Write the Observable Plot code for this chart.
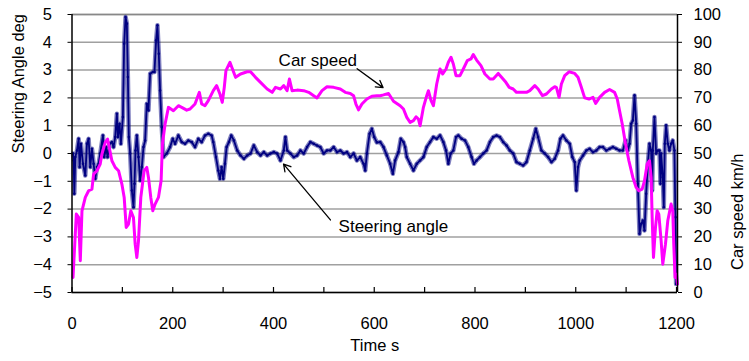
<!DOCTYPE html>
<html>
<head>
<meta charset="utf-8">
<script src="https://cdn.jsdelivr.net/npm/d3@7"></script>
<script src="https://cdn.jsdelivr.net/npm/@observablehq/plot@0.6"></script>
<style>
  html, body { margin: 0; padding: 0; background: #fff; }
  #chart { width: 749px; height: 361px; }
</style>
</head>
<body>
<div id="chart"></div>
<script>
// ---- Data ----
const speedTime = [2,8.6,13.2,16.5,19.8,26.4,33,39.6,42.9,49.5,56,59.4,66,70.6,79.2,85.8,92.4,99,103.6,107.6,112.2,116.8,122,125.4,128.7,132,136.6,143.2,148.5,151.8,156.4,160.4,165,171.6,176.9,179.5,184.8,191.4,201.3,211.2,217.8,227.7,234.3,244.2,252.8,257.4,264,270.6,280.5,287.1,293.7,298.3,302.3,305.6,313.5,324.7,334.6,347.8,354.4,364.3,374.2,387.4,397.3,403.9,413.8,420.4,427,431.6,436.9,446.8,460,469.9,479.8,486.4,496.3,506.2,519.4,532.6,542.5,552.4,559,563.6,568.9,575.5,585.4,595.3,605.2,611.8,618.4,628.3,638.2,651.4,658,664.6,671.2,677.8,683,687.7,691,697.6,704.2,707.5,712.8,717.4,724,730.6,735.9,742.5,747.1,752.4,757,762.3,770.2,776.8,784.7,792,796.6,803.2,811.8,819.7,829.6,836.2,846.1,852.7,861.3,867.9,875.8,882.4,895.6,902.2,908.8,918.7,925.3,933.9,941.8,951.7,958.3,961.6,966.9,971.5,978.1,986.7,997.9,1004.5,1011.1,1017.7,1026.3,1034.2,1039.5,1047.4,1057.3,1067.2,1077.1,1082.4,1087,1092.3,1098.9,1105.5,1113.4,1120,1125.3,1131.9,1136.5,1141.8,1146.4,1149.7,1151.7,1154.3,1158.3,1161.6,1164.9,1169.5,1172.8,1178.1,1182.7,1189.3,1192.6,1194.6,1197.2,1200,1202];
const speedKmh = [5.4,28.2,27,11.4,29.4,34.2,36.6,37.2,42.6,43.8,46.2,49.8,54,55.2,47.4,45,43.8,39,34.2,23.4,24.6,29.4,27,17.4,12.6,18.6,34.2,43.8,45,41.4,34.2,29.4,31.8,34.2,40.2,53.4,60.6,66.6,65.4,67.2,66.6,65.6,66,67.8,72,67.8,67.2,69,72.6,74.4,71.4,68.4,73.8,79.8,82.8,77.4,78.6,79.4,79.4,77.4,75.6,73.2,72,73.8,73.2,74.4,72.6,76.8,72.6,72.8,72.6,72,70.8,70,72.6,74,73.8,73.2,72,71.6,70.8,67.8,65.7,67.8,69.6,70.6,70.8,70.8,71.1,71.6,68.8,67.2,66,63,61.2,61.8,63.2,62.4,60,66.6,70.8,72.6,69,67.2,75,80.4,78.6,80.4,82.8,84.6,82.2,78,78,80.4,83.4,84,85.6,83.6,81.6,78.6,76.8,76.8,78.8,77.4,75.6,73.8,73.2,72,72,72,72.6,74.4,73.2,70.8,71.4,73.2,74,73.8,70.2,75,78,79.4,78.8,77.4,73.8,70,69.6,70.2,68,70.2,72,73,72,69.6,65.4,60.6,53.4,47.4,41.4,37.8,36.6,37.2,40.2,46.2,47.4,41.4,27,12.6,23.4,29.4,28.2,18.6,10.2,17.4,25.8,31.8,29.4,17.4,5.4,6.6,3];

const steerTime = [2,3.3,4.6,6.6,9.9,13.2,15.2,17.8,21.8,26.4,29.7,33,36.3,39.6,42.9,46.2,49.5,52.8,56.1,61.4,64,68,70.6,74.6,79.2,82.5,85.8,89.1,91.1,94.4,97,101,103.6,106.3,108.9,110.9,112.9,115.5,118.8,122.1,124.1,126.1,128.7,132,135.3,138.6,141.9,145.2,148.5,151.8,155.1,160.4,163.7,167,169.6,172.3,174.9,178.2,181.5,188.1,194.7,200,204.6,211.2,217.8,224.4,231,237.6,244.2,250.8,257.4,264,270.6,277.2,280.5,285.8,290.4,293.7,297,300.3,303.6,306.9,311.5,316.1,321.4,328,334.6,341.2,347.8,354.4,361,367.6,374.2,380.8,387.4,394,400.6,407.2,413.8,420.4,423.7,427,433.6,440.2,446.8,453.4,460,466.6,473.2,479.8,486.4,493,499.6,506.2,512.8,519.4,526,532.6,539.2,545.8,552.4,559,565.6,572.2,578.8,582.1,585.4,590.7,595.3,599.9,605.2,611.8,618.4,625,631.6,636.9,641.5,648.1,652.7,658,661.3,664.6,671.2,677.8,684.4,691,697.6,704.2,710.8,717.4,724,730.6,737.2,742.5,747.1,751.7,757,762.3,766.9,773.5,780.1,786.7,793.3,797.9,803.2,809.8,816.4,823,829.6,836.2,842.8,849.4,856,862.6,869.2,875.8,882.4,889,895.6,902.2,908.8,915.4,920.7,925.3,931.9,938.5,945.1,951.7,958.3,964.9,969.5,974.8,981.4,988,993.3,997.9,1001.2,1004.5,1007.8,1014.4,1021,1027.6,1034.2,1040.8,1047.4,1054,1060.6,1067.2,1073.8,1080.4,1087,1093.6,1098.9,1103.5,1106.8,1110.1,1113.4,1116.7,1120,1123.3,1126.6,1129.9,1133.2,1136.5,1139.8,1143.1,1146.4,1149.7,1151.7,1153,1156.3,1159.6,1162.9,1166.2,1168.2,1169.5,1172.8,1174.8,1176.8,1179.4,1182.7,1186,1189.3,1192.6,1195.9,1197.9,1199.2];
const steerDeg = [0,-0.25,-1.45,-0.13,0.11,0.53,-0.49,0.35,-0.37,-0.79,0.35,0.53,-0.49,0.17,-0.37,-0.91,-0.49,-0.37,0,0.65,-0.13,0.23,-0.13,0.35,0.41,0.23,0.59,1.43,0.59,1.07,0.35,1.31,3.95,4.91,4.67,2.75,0.59,0,-1.33,-1.93,-1.09,0.11,0.65,-0.13,-0.97,-0.49,0.23,0.47,1.79,1.55,2.87,2.93,2.93,4.07,4.61,3.59,2.27,0.95,-0.13,0,0.23,0.53,0.35,0.65,0.41,0.35,0.47,0.41,0.23,0.53,0.41,0.65,0.71,0.65,0.41,-0.13,-0.61,-0.91,-0.49,-0.91,-0.37,0.23,0.41,0.65,0.47,0.11,-0.07,-0.19,-0.07,0,0.29,0.05,-0.07,0.05,-0.07,0,0.05,0,-0.25,0.11,0.59,0.11,0,-0.13,-0.07,0.11,0,0.23,0.41,0.35,0.29,0.23,0,0.11,0.11,0.23,0.05,0.11,0,0.05,-0.13,0,-0.25,-0.13,-0.37,-0.61,0,0.71,0.89,0.59,0.4,0.41,0.23,-0.07,-0.37,-0.73,-0.25,0.05,0.53,0.41,0.23,-0.13,-0.37,-0.61,-0.37,-0.25,-0.13,0.23,0.41,0.59,0.53,0.65,0.41,0.11,-0.37,0,0.11,0.59,0.65,0.53,0.47,0.23,-0.13,-0.37,-0.25,-0.13,0,0.11,0.41,0.59,0.65,0.59,0.41,0.29,0.11,0,-0.31,-0.37,-0.43,-0.31,0.11,0.53,0.89,0.59,0.11,0,-0.13,-0.31,-0.19,0.11,0.53,0.65,0.47,0.35,-0.13,-0.31,-1.33,-0.49,-0.25,-0.07,0.11,0.17,0.05,0.11,0.23,0.23,0.11,0.17,0.23,0.17,0.11,0.11,0.47,0.11,0.35,1.07,1.19,2.09,1.07,-1.09,-2.89,-2.53,-2.41,-2.77,-1.45,-0.37,0.35,0.11,-1.33,0.11,1.31,0,0.11,0.11,-1.09,0,-0.85,-1.93,0.35,1.01,0.35,0.11,0.35,0.47,0.11,-2.29,-4.69];

const timeTicks = [0, 200, 400, 600, 800, 1000, 1200];
const timeMinorTicks = [0, 100, 200, 300, 400, 500, 600, 700, 800, 900, 1000, 1100, 1200];
const steerTicks = [-5, -4, -3, -2, -1, 0, 1, 2, 3, 4, 5];
const speedTicks = [0, 10, 20, 30, 40, 50, 60, 70, 80, 90, 100];

// ---- Tables built from the arrays ----
const speedData = speedTime.map((t, i) => ({t, v: speedKmh[i]}));
const steerData = steerTime.map((t, i) => ({t, v: steerDeg[i]}));
// speed (0..100 km/h) is shown on the secondary axis, aligned to the steering scale (-5..5)
const speedToSteer = v => v / 10 - 5;
const steerToSpeed = s => Math.round((s + 5) * 10);

const font = "'Liberation Sans', Arial, sans-serif";
const xMax = 1202;

const chart = Plot.plot({
  width: 749,
  height: 361,
  marginLeft: 71.5,
  marginRight: 72,
  marginTop: 14,
  marginBottom: 69,
  style: {fontFamily: font, fontSize: "16.5px", background: "#fff", color: "#000", overflow: "visible"},
  x: {domain: [0, xMax]},
  y: {domain: [-5, 5]},
  marks: [
    Plot.gridY(steerTicks, {stroke: "#a0a0a0", strokeOpacity: 1, strokeWidth: 1.5}),
    Plot.ruleY([5], {stroke: "#888", strokeWidth: 1.5}),
    // steering angle (navy)
    Plot.line(steerData, {x: "t", y: "v", stroke: "#000080", strokeWidth: 4.5, strokeOpacity: 0.5}),
    Plot.line(steerData, {x: "t", y: "v", stroke: "#000080", strokeWidth: 1.8}),
    Plot.dot(steerData, {x: "t", y: "v", r: 1.3, fill: "#000080"}),
    // car speed (magenta)
    Plot.line(speedData, {x: "t", y: d => speedToSteer(d.v), stroke: "#ff00ff", strokeWidth: 3}),
    // frame
    Plot.ruleX([0], {stroke: "#000", strokeWidth: 1.5}),
    Plot.ruleX([xMax], {stroke: "#000", strokeWidth: 1.5}),
    Plot.ruleY([-5], {stroke: "#000", strokeWidth: 1.5}),
    Plot.ruleX(timeMinorTicks, {y1: -5, y2: -4.82, stroke: "#000", strokeWidth: 1.2}),
    // axes
    Plot.axisX(timeTicks, {anchor: "bottom", tickSize: 0, tickPadding: 25, tickFormat: d => String(d), fontSize: 16.5, label: null}),
    Plot.axisY(steerTicks, {anchor: "left", tickSize: 4, tickPadding: 16, fontSize: 16.5, label: null}),
    Plot.axisY(steerTicks, {anchor: "right", tickSize: 4, tickPadding: 12, fontSize: 16.5, tickFormat: steerToSpeed, label: null}),
    // axis titles
    Plot.text(["Time s"], {frameAnchor: "bottom", dy: 58, fontSize: 16.5, text: d => d}),
    Plot.text(["Steering Angle deg"], {frameAnchor: "left", dx: -53, rotate: -90, fontSize: 16.5, text: d => d}),
    Plot.text(["Car speed km/h"], {frameAnchor: "right", dx: 60, rotate: -90, fontSize: 16.5, text: d => d}),
    // annotations
    Plot.text(["Car speed"], {x: 488, y: 3.35, fontSize: 17, text: d => d}),
    Plot.arrow([0], {x1: 566, y1: 3.05, x2: 617.5, y2: 2.37, stroke: "#000", strokeWidth: 1.3, headLength: 9}),
    Plot.text(["Steering angle"], {x: 638, y: -2.63, fontSize: 17, text: d => d}),
    Plot.arrow([0], {x1: 513, y1: -2.39, x2: 420, y2: -0.38, stroke: "#000", strokeWidth: 1.3, headLength: 9})
  ]
});
document.getElementById("chart").append(chart);
</script>
</body>
</html>
